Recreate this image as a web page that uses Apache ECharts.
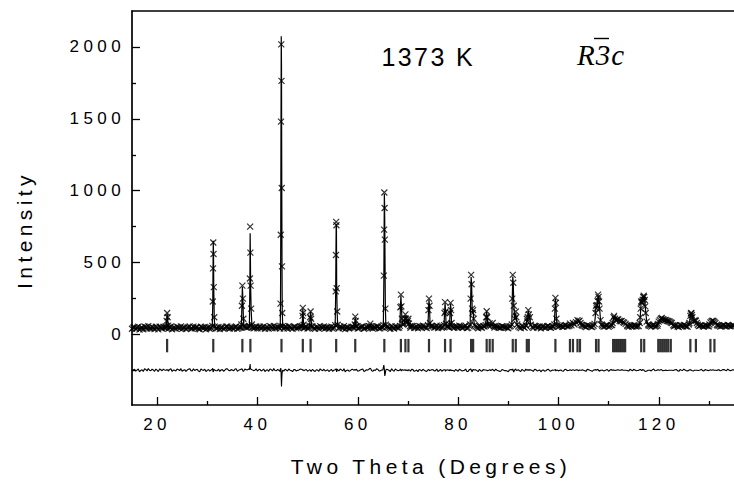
<!DOCTYPE html>
<html><head><meta charset="utf-8">
<script src="https://cdn.jsdelivr.net/npm/echarts@6/dist/echarts.min.js"></script>
<style>
html,body{margin:0;padding:0;background:#fff}
#chart{width:734px;height:485px}
#chart text{letter-spacing:4.4px}
#chart text[style*="25px"]{letter-spacing:2.4px}
#chart text[style*="italic"]{letter-spacing:1px}
</style></head><body><div id="chart"></div>
<script>
// ---- axis ticks ----
const xMajorTicks = [20, 40, 60, 80, 100, 120];
const xMinorTicks = [30, 50, 70, 90, 110, 130];
const yMajorTicks = [0, 500, 1000, 1500, 2000];
const yMinorTicks = [-250, 250, 750, 1250, 1750];

// ---- annotation texts ----
const tempLabel = '1373 K';
const spaceGroup = 'R3c';
const xTitle = 'Two Theta (Degrees)';
const yTitle = 'Intensity';

// ---- Bragg reflection positions (2θ) ----
const braggPositions = [22.0, 31.2, 37.0, 38.6, 44.8, 49.05, 50.6, 55.7, 59.5, 65.3, 68.6, 69.5, 70.1, 74.2,
  77.4, 78.5, 82.6, 83.0, 85.7, 86.3, 86.9, 90.9, 91.5, 93.7, 94.1, 99.4, 102.3, 102.9, 103.8, 104.3,
  107.5, 108.0, 110.9, 111.3, 111.7, 112.1, 112.5, 112.9, 113.3, 116.5, 117.1, 119.9, 120.3, 120.7,
  121.1, 121.5, 121.9, 122.4, 126.3, 127.4, 130.3, 131.1];

// ---- background scan: [2θ, observed, calculated] ----
const baselineScan = [
[15.0,40,44],[15.5,52,44],[16.0,47,44],[16.5,35,44],[17.0,49,44],[17.5,56,44],[18.0,41,44],[18.5,45,44],[19.0,53,44],[19.5,38,44],
[20.0,46,44],[20.5,55,44],[21.0,42,44],[21.5,48,44],[22.0,44,44],[22.5,51,44],[23.0,37,44],[23.5,46,44],[24.0,54,44],[24.5,43,44],
[25.0,39,44],[25.5,50,44],[26.0,47,44],[26.5,57,44],[27.0,41,44],[27.5,44,44],[28.0,52,44],[28.5,36,44],[29.0,48,44],[29.5,53,44],
[30.0,45,44],[30.5,40,44],[31.0,49,44],[31.5,55,44],[32.0,43,44],[32.5,38,44],[33.0,50,44],[33.5,46,44],[34.0,56,44],[34.5,42,44],
[35.0,47,44],[35.5,52,44],[36.0,39,44],[36.5,49,44],[37.0,45,44],[37.5,54,44],[38.0,48,44],[38.5,44,44],[39.0,51,44],[39.5,46,44],
[40.0,43,47],[40.5,55,47],[41.0,49,47],[41.5,40,47],[42.0,52,47],[42.5,58,47],[43.0,44,47],[43.5,47,47],[44.0,53,47],[44.5,41,47],
[45.0,50,47],[45.5,56,47],[46.0,43,47],[46.5,49,47],[47.0,39,47],[47.5,54,47],[48.0,48,47],[48.5,57,47],[49.0,45,47],[49.5,51,47],
[50.0,42,47],[50.5,47,47],[51.0,55,47],[51.5,40,47],[52.0,50,47],[52.5,59,47],[53.0,46,47],[53.5,43,47],[54.0,52,47],[54.5,48,47],
[55.0,41,47],[55.5,54,47],[56.0,49,47],[56.5,57,47],[57.0,44,47],[57.5,38,47],[58.0,51,47],[58.5,46,47],[59.0,55,47],[59.5,47,47],
[60.0,42,47],[60.5,50,47],[61.0,58,47],[61.5,45,47],[62.0,49,47],[62.5,53,47],[63.0,41,47],[63.5,47,47],[64.0,56,47],[64.5,44,47],
[65.0,50,47],[65.5,45,47],[66.0,53,47],[66.5,40,47],[67.0,48,47],[67.5,57,47],[68.0,46,47],[68.5,51,47],[69.0,43,47],[69.5,49,47],
[70.0,55,52],[70.5,47,52],[71.0,58,52],[71.5,50,52],[72.0,44,52],[72.5,56,52],[73.0,61,52],[73.5,49,52],[74.0,53,52],[74.5,46,52],
[75.0,57,52],[75.5,51,52],[76.0,45,52],[76.5,60,52],[77.0,54,52],[77.5,48,52],[78.0,56,52],[78.5,43,52],[79.0,52,52],[79.5,59,52],
[80.0,47,52],[80.5,55,52],[81.0,50,52],[81.5,62,52],[82.0,46,52],[82.5,53,52],[83.0,49,52],[83.5,57,52],[84.0,44,52],[84.5,51,52],
[85.0,58,52],[85.5,48,52],[86.0,55,52],[86.5,45,52],[87.0,53,52],[87.5,61,52],[88.0,50,52],[88.5,47,52],[89.0,56,52],[89.5,52,52],
[90.0,44,52],[90.5,59,52],[91.0,51,52],[91.5,48,52],[92.0,57,52],[92.5,45,52],[93.0,53,52],[93.5,62,52],[94.0,49,52],[94.5,55,52],
[95.0,46,52],[95.5,58,52],[96.0,52,52],[96.5,43,52],[97.0,56,52],[97.5,50,52],[98.0,60,52],[98.5,47,52],[99.0,54,52],[99.5,51,52],
[100.0,55,58],[100.5,62,58],[101.0,53,58],[101.5,66,58],[102.0,58,58],[102.5,51,58],[103.0,63,58],[103.5,57,58],[104.0,67,58],[104.5,54,58],
[105.0,60,58],[105.5,52,58],[106.0,64,58],[106.5,56,58],[107.0,61,58],[107.5,50,58],[108.0,59,58],[108.5,66,58],[109.0,55,58],[109.5,62,58],
[110.0,53,58],[110.5,65,58],[111.0,57,58],[111.5,60,58],[112.0,52,58],[112.5,67,58],[113.0,58,58],[113.5,63,58],[114.0,54,58],[114.5,61,58],
[115.0,66,58],[115.5,56,58],[116.0,59,58],[116.5,51,58],[117.0,64,58],[117.5,57,58],[118.0,62,58],[118.5,55,58],[119.0,68,58],[119.5,58,58],
[120.0,53,58],[120.5,63,58],[121.0,59,58],[121.5,66,58],[122.0,54,58],[122.5,61,58],[123.0,57,58],[123.5,65,58],[124.0,52,58],[124.5,60,58],
[125.0,67,58],[125.5,56,58],[126.0,62,58],[126.5,58,58],[127.0,53,58],[127.5,64,58],[128.0,59,58],[128.5,66,58],[129.0,55,58],[129.5,61,58],
[130.0,57,58],[130.5,68,58],[131.0,60,58],[131.5,54,58],[132.0,63,58],[132.5,58,58],[133.0,65,58],[133.5,56,58],[134.0,61,58],[134.5,59,58],
[135.0,62,58]
];

// ---- interleaved background readings: [2θ, observed, calculated] ----
const baselineScanMid = [
[15.25,48,44],[15.75,39,44],[16.25,55,44],[16.75,44,44],[17.25,37,44],[17.75,51,44],[18.25,58,44],[18.75,42,44],[19.25,47,44],[19.75,54,44],
[20.25,36,44],[20.75,49,44],[21.25,53,44],[21.75,45,44],[22.25,40,44],[22.75,56,44],[23.25,48,44],[23.75,41,44],[24.25,50,44],[24.75,57,44],
[25.25,46,44],[25.75,38,44],[26.25,52,44],[26.75,43,44],[27.25,55,44],[27.75,49,44],[28.25,40,44],[28.75,54,44],[29.25,44,44],[29.75,37,44],
[30.25,51,44],[30.75,47,44],[31.75,42,44],[32.25,53,44],[32.75,48,44],[33.25,39,44],[33.75,55,44],[34.25,46,44],[34.75,50,44],
[35.25,41,44],[35.75,57,44],[36.25,45,44],[36.75,52,44],[37.25,38,44],[37.75,49,44],[38.25,54,44],[39.25,43,44],[39.75,56,44],
[40.25,52,47],[40.75,44,47],[41.25,57,47],[41.75,48,47],[42.25,41,47],[42.75,53,47],[43.25,60,47],[43.75,45,47],[44.25,50,47],
[45.25,42,47],[45.75,51,47],[46.25,58,47],[46.75,46,47],[47.25,53,47],[47.75,43,47],[48.25,49,47],[48.75,56,47],[49.25,44,47],[49.75,54,47],
[50.25,48,47],[51.25,45,47],[51.75,52,47],[52.25,41,47],[52.75,50,47],[53.25,56,47],[53.75,47,47],[54.25,40,47],[54.75,55,47],
[55.25,49,47],[56.25,44,47],[56.75,51,47],[57.25,59,47],[57.75,47,47],[58.25,42,47],[58.75,53,47],[59.25,48,47],[59.75,56,47],
[60.25,45,47],[60.75,54,47],[61.25,40,47],[61.75,52,47],[62.25,57,47],[62.75,46,47],[63.25,51,47],[63.75,58,47],[64.25,43,47],[64.75,50,47],
[65.75,55,47],[66.25,47,47],[66.75,59,47],[67.25,42,47],[67.75,51,47],[68.25,48,47],
[70.75,60,52],[71.25,46,52],[71.75,55,52],[72.25,59,52],[72.75,48,52],[73.25,53,52],[73.75,45,52],[74.75,58,52],
[75.25,49,52],[75.75,62,52],[76.25,52,52],[76.75,47,52],[77.75,55,52],[78.25,50,52],[78.75,57,52],[79.25,46,52],[79.75,54,52],
[80.25,61,52],[80.75,49,52],[81.25,53,52],[81.75,45,52],[82.25,58,52],[83.75,51,52],[84.25,60,52],[84.75,47,52],
[85.25,55,52],[87.25,49,52],[87.75,54,52],[88.25,46,52],[88.75,59,52],[89.25,51,52],[89.75,48,52],
[90.25,56,52],[92.25,50,52],[92.75,60,52],[93.25,47,52],[94.75,52,52],
[95.25,61,52],[95.75,49,52],[96.25,56,52],[96.75,53,52],[97.25,47,52],[97.75,58,52],[98.25,51,52],[98.75,55,52],
[100.25,60,58],[100.75,54,58],[101.25,64,58],[101.75,57,58],[104.75,63,58],
[105.25,56,58],[105.75,66,58],[106.25,59,58],[106.75,52,58],[108.75,61,58],[109.25,57,58],[109.75,65,58],
[110.25,60,58],[113.75,59,58],[114.25,66,58],[114.75,55,58],
[115.25,61,58],[115.75,58,58],[118.25,60,58],[118.75,64,58],[119.25,56,58],[119.75,62,58],
[123.25,63,58],[123.75,56,58],[124.25,65,58],[124.75,58,58],
[125.25,61,58],[125.75,55,58],[128.25,62,58],[128.75,57,58],[129.25,64,58],[129.75,59,58],
[131.75,62,58],[132.25,56,58],[132.75,64,58],[133.25,60,58],[133.75,67,58],[134.25,57,58],[134.75,63,58]
];

// ---- peak regions: [2θ, observed, calculated] ----
const peakScans = [
[[21.8,55,50],[21.9,95,90],[22.0,150,146],[22.1,120,118],[22.2,62,56]],
[[31.0,60,52],[31.1,230,215],[31.15,460,470],[31.2,640,652],[31.25,560,565],[31.3,330,322],[31.4,120,112],[31.5,55,52]],
[[36.8,70,62],[36.9,200,188],[37.0,340,332],[37.1,250,252],[37.2,110,116],[37.3,58,60]],
[[38.4,60,54],[38.5,390,360],[38.55,750,705],[38.6,570,560],[38.65,340,330],[38.75,180,172],[38.9,70,64]],
[[44.55,60,56],[44.6,215,200],[44.65,694,680],[44.7,1481,1470],[44.75,2018,2075],[44.8,1764,1875],[44.85,1019,1080],[44.9,474,500],[44.95,150,162],[45.05,58,56]],
[[48.9,60,54],[49.0,130,124],[49.05,185,180],[49.1,150,150],[49.2,68,64]],
[[50.4,60,55],[50.5,120,114],[50.6,160,160],[50.7,110,116],[50.8,58,58]],
[[55.5,65,60],[55.6,300,290],[55.65,553,548],[55.7,783,770],[55.75,760,762],[55.8,322,332],[55.9,160,150],[56.0,68,64]],
[[59.4,70,64],[59.5,125,118],[59.6,95,92],[59.7,60,57]],
[[62.3,58,52],[62.5,76,60],[62.7,57,52]],
[[65.1,65,60],[65.2,410,372],[65.25,730,692],[65.3,988,978],[65.35,880,902],[65.4,660,698],[65.5,180,198],[65.6,68,64]],
[[68.4,60,56],[68.5,190,180],[68.6,278,270],[68.7,196,200],[68.8,110,106],[69.0,70,66],[69.2,72,70],[69.4,110,104],[69.5,140,134],[69.6,110,110],[69.8,80,76],[70.0,95,98],[70.1,110,105],[70.2,76,72],[70.4,58,56]],
[[74.0,65,60],[74.1,170,164],[74.2,250,244],[74.3,200,202],[74.4,80,78],[74.55,58,56]],
[[77.2,65,60],[77.3,150,148],[77.4,225,220],[77.5,160,166],[77.6,75,74]],
[[78.3,70,64],[78.4,150,150],[78.5,220,214],[78.6,170,172],[78.7,80,78]],
[[82.4,70,64],[82.5,250,238],[82.6,415,400],[82.7,350,352],[82.8,180,190],[82.9,150,148],[83.0,170,164],[83.1,110,106],[83.3,65,62]],
[[85.5,65,62],[85.6,120,114],[85.7,162,160],[85.8,120,122],[85.9,70,70],[86.1,62,60],[86.3,78,72],[86.5,60,60],[86.9,80,72],[87.1,58,58]],
[[90.7,70,64],[90.8,250,248],[90.9,415,404],[91.0,360,362],[91.1,200,210],[91.3,110,104],[91.5,160,150],[91.6,120,120],[91.8,70,68]],
[[93.6,62,60],[93.7,110,104],[93.8,92,90],[93.9,120,116],[94.0,170,164],[94.1,140,140],[94.3,120,114],[94.5,68,64]],
[[99.2,70,66],[99.3,180,174],[99.4,255,248],[99.5,220,224],[99.6,110,108],[99.8,65,62]],
[[102.2,62,60],[102.3,76,70],[102.6,64,64],[102.9,80,74],[103.2,70,70],[103.5,86,82],[103.8,100,96],[104.0,92,94],[104.2,96,92],[104.4,80,78],[104.6,68,66]],
[[107.2,74,70],[107.4,150,144],[107.5,200,198],[107.6,182,180],[107.7,205,200],[107.8,232,226],[107.9,278,270],[108.0,262,264],[108.1,230,228],[108.2,180,186],[108.4,100,98],[108.6,70,68]],
[[110.7,66,64],[110.8,80,76],[111.0,120,116],[111.1,130,128],[111.3,110,110],[111.5,98,96],[111.7,104,100],[111.9,106,102],[112.2,96,94],[112.4,92,90],[112.6,94,88],[112.9,86,84],[113.1,82,80],[113.4,74,72],[113.7,64,64]],
[[116.2,80,74],[116.3,120,116],[116.4,180,174],[116.5,230,224],[116.6,220,220],[116.7,228,226],[116.8,242,236],[116.9,260,254],[117.0,270,266],[117.1,262,258],[117.2,240,244],[117.3,196,200],[117.4,150,156],[117.6,90,94],[117.9,70,68]],
[[119.8,74,70],[120.0,90,86],[120.2,100,98],[120.4,110,104],[120.6,115,110],[120.8,106,108],[121.0,104,104],[121.2,100,100],[121.4,102,98],[121.6,96,96],[121.8,94,94],[122.0,92,90],[122.2,90,88],[122.4,84,82],[122.6,80,78],[122.9,66,66]],
[[126.0,70,68],[126.1,80,76],[126.3,130,124],[126.4,146,140],[126.5,150,148],[126.6,136,136],[126.7,120,122],[126.9,92,96],[127.1,96,94],[127.3,100,98],[127.4,95,94],[127.6,80,78],[127.8,68,68]],
[[130.1,70,68],[130.3,85,80],[130.5,92,90],[130.7,96,92],[130.9,94,90],[131.1,88,86],[131.3,80,78],[131.6,68,68]]
];

const DIFF_OFFSET = -250;   // difference curve baseline
const TICK_ROW = -77;       // Bragg marker row

// ---- build the scan table ----
const ranges = peakScans.map(p => [p[0][0] - 0.04, p[p.length - 1][0] + 0.04]);
const scan = baselineScan.concat(baselineScanMid)
  .filter(r => !ranges.some(([a, b]) => r[0] >= a && r[0] <= b))
  .concat(...peakScans)
  .sort((a, b) => a[0] - b[0]);
const obsData = scan.map(r => [r[0], r[1]]);
const calcData = scan.map(r => [r[0], r[2]]);
const diffData = scan.map(r => [r[0], r[1] - r[2] + DIFF_OFFSET]);
const braggData = braggPositions.map(p => [p, TICK_ROW]);

const FONT = 'Liberation Sans';
const chart = echarts.init(document.getElementById('chart'), null, {renderer: 'svg'});
const axisLine = {show: true, onZero: false, lineStyle: {color: '#000', width: 1.7}};
const plain = v => String(v);
chart.setOption({
  animation: false,
  backgroundColor: '#fff',
  grid: {left: 132, right: -5, top: 11, bottom: 80},
  xAxis: [
    {type: 'value', min: 15, max: 135, position: 'bottom', axisLine,
     axisTick: {show: true, inside: true, length: 8, customValues: xMajorTicks, lineStyle: {color: '#000', width: 1.3}},
     axisLabel: {show: true, customValues: xMajorTicks, formatter: plain, margin: 11, fontSize: 17, fontFamily: FONT, color: '#000'},
     splitLine: {show: false}},
    {type: 'value', min: 15, max: 135, position: 'bottom', axisLine: {show: false, onZero: false},
     axisTick: {show: true, inside: true, length: 4, customValues: xMinorTicks, lineStyle: {color: '#000', width: 1.3}},
     axisLabel: {show: false}, splitLine: {show: false}},
    {type: 'value', min: 15, max: 135, position: 'top', axisLine,
     axisTick: {show: false}, axisLabel: {show: false}, splitLine: {show: false}}
  ],
  yAxis: [
    {type: 'value', min: -490, max: 2250, position: 'left', axisLine,
     axisTick: {show: true, inside: true, length: 8, customValues: yMajorTicks, lineStyle: {color: '#000', width: 1.3}},
     axisLabel: {show: true, customValues: yMajorTicks, formatter: plain, margin: 7, fontSize: 17, fontFamily: FONT, color: '#000'},
     splitLine: {show: false}},
    {type: 'value', min: -490, max: 2250, position: 'left', axisLine: {show: false, onZero: false},
     axisTick: {show: true, inside: true, length: 4, customValues: yMinorTicks, lineStyle: {color: '#000', width: 1.3}},
     axisLabel: {show: false}, splitLine: {show: false}}
  ],
  series: [
    {name: 'Calculated', type: 'line', data: calcData, showSymbol: false, symbol: 'none',
     lineStyle: {color: '#000', width: 1.2}, z: 3},
    {name: 'Observed', type: 'scatter', data: obsData, symbol: 'path://M0 0L10 10M10 0L0 10', symbolSize: 6,
     itemStyle: {color: '#000', borderColor: '#000', borderWidth: 1.2}, z: 4},
    {name: 'Bragg', type: 'scatter', data: braggData, symbol: 'rect', symbolSize: [2.2, 13.4],
     itemStyle: {color: '#000'}, z: 3},
    {name: 'Difference', type: 'line', data: diffData, showSymbol: false, symbol: 'none',
     lineStyle: {color: '#000', width: 1.1}, z: 3}
  ],
  graphic: [
    {type: 'text', x: 381.5, y: 57, style: {text: tempLabel, font: '25px "Liberation Sans"', fill: '#000', textAlign: 'left', textVerticalAlign: 'middle'}},
    {type: 'text', x: 577, y: 55, style: {text: spaceGroup, font: 'italic 29px "Liberation Serif"', fill: '#000', textAlign: 'left', textVerticalAlign: 'middle'}},
    {type: 'line', shape: {x1: 594, y1: 38.5, x2: 609, y2: 38.5}, style: {stroke: '#000', lineWidth: 1.4}},
    {type: 'text', x: 24, y: 230, rotation: Math.PI / 2, style: {text: yTitle, font: '21px "Liberation Sans"', fill: '#000', textAlign: 'center', textVerticalAlign: 'middle'}},
    {type: 'text', x: 431, y: 466, style: {text: xTitle, font: '21px "Liberation Sans"', fill: '#000', textAlign: 'center', textVerticalAlign: 'middle'}}
  ]
});
</script></body></html>
